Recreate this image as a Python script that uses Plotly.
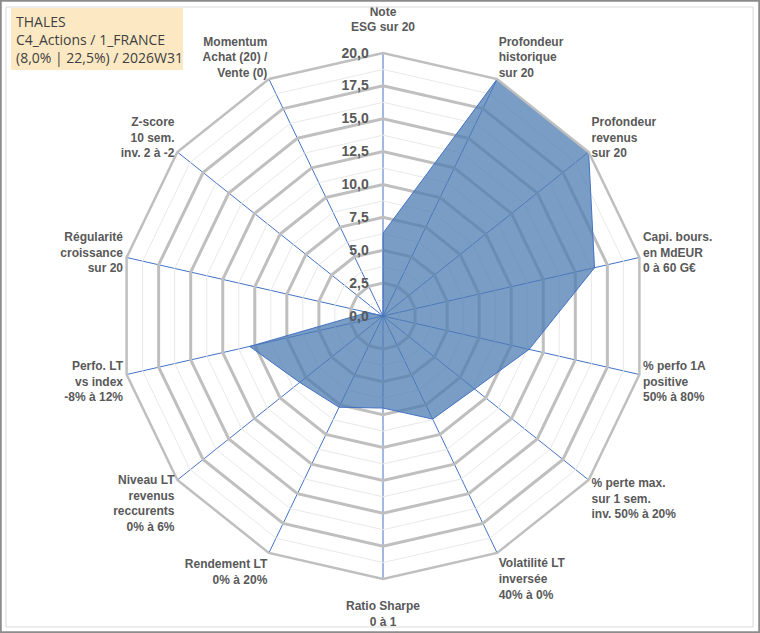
import plotly.graph_objects as go

# axes of the radar, clockwise from the top
categories = [
    "Note<br>ESG sur 20<br> ",
    "Profondeur<br>historique<br>sur 20",
    "Profondeur<br>revenus<br>sur 20",
    "Capi. bours.<br>en MdEUR<br>0 à 60 G€",
    "% perfo 1A<br>positive<br>50% à 80%",
    "% perte max.<br>sur 1 sem.<br>inv. 50% à 20%",
    "Volatilité LT<br>inversée<br>40% à 0%",
    " <br>Ratio Sharpe<br>0 à 1",
    "Rendement LT<br>0% à 20%",
    "Niveau LT<br>revenus<br>reccurents<br>0% à 6%",
    "Perfo. LT<br>vs index<br>-8% à 12%",
    "Régularité<br>croissance<br>sur 20",
    "Z-score<br>10 sem.<br>inv. 2 à -2",
    "Momentum<br>Achat (20) /<br>Vente (0)",
]
scores = [6.3, 20.0, 20.0, 16.5, 11.4, 8.9, 8.7, 7.0, 7.7, 8.1, 10.4, 1.2, 0.0, 0.0]
minor_levels = [1.25, 3.75, 6.25, 8.75, 11.25, 13.75, 16.25, 18.75]
title_lines = ["THALES", "C4_Actions / 1_FRANCE", "(8,0% | 22,5%) / 2026W31"]

grey_txt = "#595959"
theta_closed = categories + [categories[0]]

fig = go.Figure()

# light intermediate grid rings
for lv in minor_levels:
    fig.add_trace(go.Scatterpolar(
        r=[lv] * len(theta_closed), theta=theta_closed, mode="lines",
        line=dict(color="#E8E8E8", width=1), hoverinfo="skip", showlegend=False))

fig.add_trace(go.Scatterpolar(
    r=scores + [scores[0]], theta=theta_closed, mode="lines", fill="toself",
    fillcolor="rgba(78,124,179,0.75)", line=dict(color="#4472C4", width=1),
    name="THALES", showlegend=False))

W, H = 760, 633
cx, cy, rad = 383, 316, 263

fig.update_layout(
    width=W, height=H,
    margin=dict(l=0, r=0, t=0, b=0),
    paper_bgcolor="white",
    separators=", ",
    font=dict(family="Liberation Sans, Arial, sans-serif", color=grey_txt),
    polar=dict(
        domain=dict(x=[(cx - rad) / W, (cx + rad) / W],
                    y=[(H - cy - rad) / H, (H - cy + rad) / H]),
        bgcolor="white",
        gridshape="linear",
        angularaxis=dict(
            direction="clockwise", rotation=90,
            showline=True, linecolor="#BFBFBF", linewidth=2.5,
            gridcolor="#4472C4", gridwidth=1,
            ticks="", tickfont=dict(size=12, color=grey_txt, family="Liberation Sans, Arial, sans-serif", weight="bold"),
        ),
        radialaxis=dict(
            range=[0, 20], dtick=2.5, tick0=0, tickformat=".1f",
            ticksuffix="\u00a0\u00a0\u00a0",
            angle=90, tickangle=90, side="counterclockwise",
            showline=False, ticks="",
            gridcolor="#BFBFBF", gridwidth=2.5,
            tickfont=dict(size=14, color=grey_txt, weight="bold"),
        ),
    ),
    shapes=[
        dict(type="rect", xref="paper", yref="paper", x0=0.001, x1=0.999, y0=0.001, y1=0.999,
             line=dict(color="#8C8C8C", width=2)),
        dict(type="rect", xref="paper", yref="paper", x0=6 / W, x1=753 / W, y0=1 - 627 / H, y1=1 - 7 / H,
             line=dict(color="#D9D9D9", width=1)),
        dict(type="rect", xref="paper", yref="paper", x0=11 / W, x1=183 / W, y0=1 - 70 / H, y1=1 - 8 / H,
             fillcolor="#FCE9C4", line=dict(width=0), layer="below"),
    ],
    annotations=[
        dict(text="<br>".join(title_lines), xref="paper", yref="paper", x=14 / W, y=1 - 10 / H,
             xanchor="left", yanchor="top", align="left", showarrow=False,
             font=dict(family="Open Sans, Liberation Sans, sans-serif", size=14, color="#404040")),
    ],
)

fig.write_html("out.html", config={"displayModeBar": False},
               post_script="document.body.style.margin='0';")
